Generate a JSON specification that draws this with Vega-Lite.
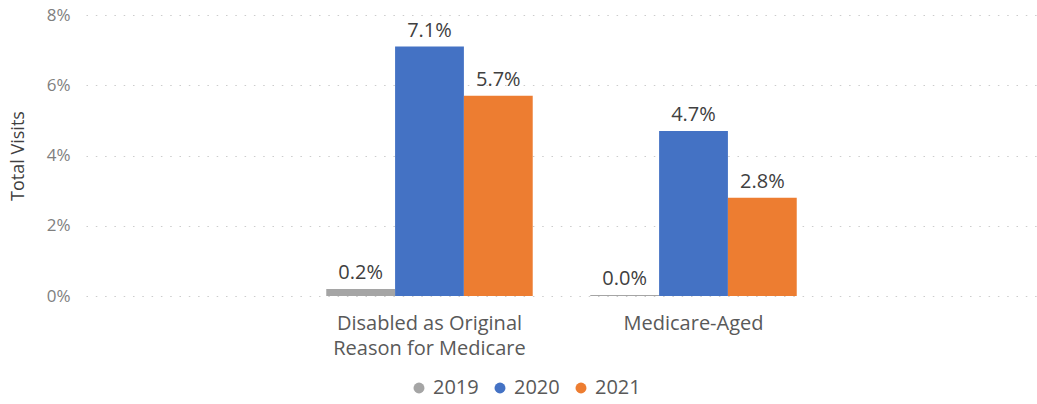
{
  "$schema": "https://vega.github.io/schema/vega-lite/v6.json",
  "autosize": {"type": "none"},
  "padding": {"left": 86, "top": 15, "right": 0, "bottom": 108},
  "width": 951,
  "height": 281,
  "config": {
    "font": "Open Sans",
    "view": {"stroke": null}
  },
  "data": {
    "values": [
      {"group": "Disabled as Original Reason for Medicare", "year": "2019", "value": 0.002},
      {"group": "Disabled as Original Reason for Medicare", "year": "2020", "value": 0.071},
      {"group": "Disabled as Original Reason for Medicare", "year": "2021", "value": 0.057},
      {"group": "Medicare-Aged", "year": "2019", "value": 0.0003},
      {"group": "Medicare-Aged", "year": "2020", "value": 0.047},
      {"group": "Medicare-Aged", "year": "2021", "value": 0.028}
    ]
  },
  "encoding": {
    "x": {
      "field": "group",
      "type": "nominal",
      "sort": null,
      "scale": {"paddingInner": 0.218, "paddingOuter": 0.91},
      "axis": {
        "title": null,
        "labelAngle": 0,
        "domain": false,
        "ticks": false,
        "labelPadding": 17,
        "labelFontSize": 20,
        "labelColor": "#595959",
        "labelLineHeight": 25,
        "labelLimit": 300,
        "labelExpr": "datum.label == 'Disabled as Original Reason for Medicare' ? ['Disabled as Original', 'Reason for Medicare'] : datum.label"
      }
    },
    "xOffset": {
      "field": "year",
      "type": "nominal",
      "scale": {"paddingInner": 0, "paddingOuter": 0}
    },
    "y": {
      "field": "value",
      "type": "quantitative",
      "scale": {"domain": [0, 0.08], "nice": false},
      "axis": {
        "title": "Total Visits",
        "titleFontSize": 18,
        "titleFontWeight": "normal",
        "titleColor": "#404040",
        "titleX": -68,
        "titleBaseline": "middle",
        "format": ".0%",
        "values": [0, 0.02, 0.04, 0.06, 0.08],
        "domain": false,
        "ticks": false,
        "labelPadding": 16,
        "labelFontSize": 17,
        "labelColor": "#7f7f7f",
        "gridColor": "#cccccc",
        "gridDash": [1.5, 7.8],
        "gridWidth": 1.2
      }
    },
    "color": {
      "field": "year",
      "type": "nominal",
      "scale": {"domain": ["2019", "2020", "2021"], "range": ["#a5a5a5", "#4472c4", "#ed7d31"]},
      "legend": {
        "title": null,
        "orient": "none",
        "direction": "horizontal",
        "legendX": 323,
        "legendY": 363,
        "symbolType": "circle",
        "symbolSize": 120,
        "symbolStrokeWidth": 0,
        "labelFontSize": 20,
        "labelColor": "#595959",
        "columnPadding": 11,
        "labelOffset": 4
      }
    }
  },
  "layer": [
    {"mark": {"type": "bar"}},
    {
      "mark": {"type": "text", "baseline": "alphabetic", "dy": -10, "fontSize": 20, "color": "#404040"},
      "encoding": {
        "text": {"field": "value", "type": "quantitative", "format": ".1%"},
        "color": {"value": "#404040"}
      }
    }
  ]
}
